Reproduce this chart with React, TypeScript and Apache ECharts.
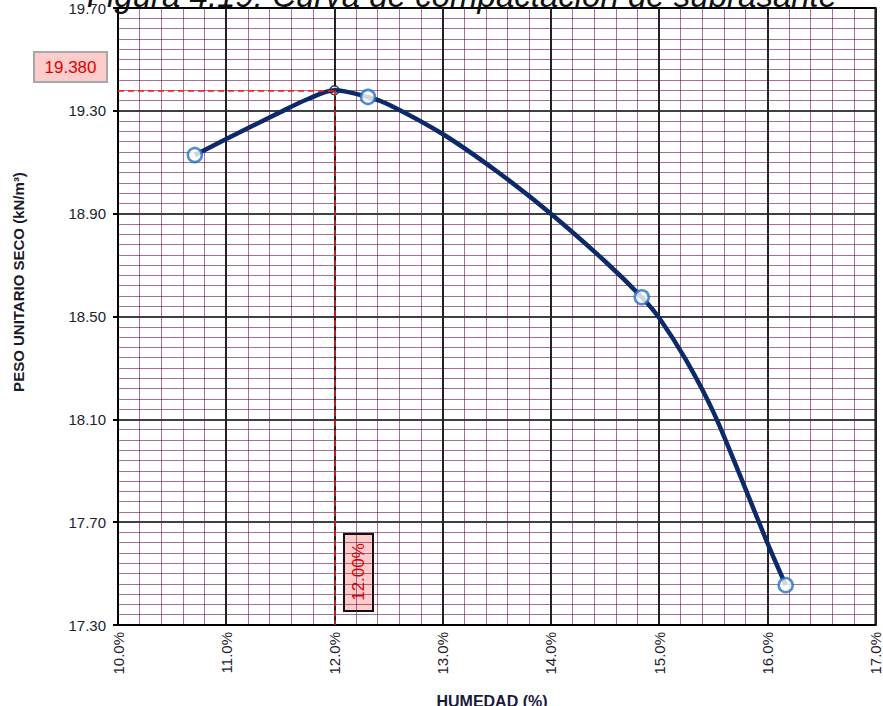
import React, { useEffect, useRef } from "react";
import * as echarts from "echarts";

// Ensayo Proctor: puntos medidos (humedad %, peso unitario seco kN/m3)
const pointHumidity = [10.71, 12.31, 14.84, 16.17];
const pointDensity = [19.128, 19.354, 18.575, 17.455];

// Curva de compactación
const curveHumidity = [10.71, 11.0, 11.5, 11.75, 12.0, 12.31, 12.5, 13.0, 13.5, 14.0, 14.5, 14.84, 15.0, 15.25, 15.5, 15.75, 16.0, 16.17];
const curveDensity = [19.128, 19.19, 19.295, 19.345, 19.38, 19.354, 19.325, 19.21, 19.065, 18.9, 18.715, 18.575, 18.495, 18.33, 18.13, 17.88, 17.62, 17.455];

// Óptimo
const optimumHumidity = 12.0;
const maxDensity = 19.38;

const xTicks = { min: 10, max: 17, interval: 1 };
const yTicks = { min: 17.3, max: 19.7, interval: 0.4 };

const titleText = "Figura 4.19: Curva de compactación de subrasante";
const xName = "HUMEDAD (%)";
const yName = "PESO UNITARIO SECO (kN/m³)";

export default function App() {
  const ref = useRef<HTMLDivElement>(null);
  useEffect(() => {
    if (!ref.current) return;
    const chart = echarts.init(ref.current, undefined, { renderer: "svg" });
    const minor = "rgba(105,20,75,0.6)";
    chart.setOption({
      animation: false,
      backgroundColor: "#ffffff",
      grid: {
        left: 118,
        right: 6,
        top: 8,
        bottom: 81,
        show: true,
        borderColor: "#000",
        borderWidth: 2,
      },
      xAxis: {
        type: "value",
        min: xTicks.min,
        max: xTicks.max,
        interval: xTicks.interval,
        axisLine: { show: true, lineStyle: { color: "#000", width: 2 } },
        axisTick: { show: false },
        axisLabel: {
          rotate: 90,
          margin: 7,
          fontFamily: "Arial, 'Liberation Sans', sans-serif",
          fontSize: 15,
          color: "#22222c",
          formatter: (v: number) => v.toFixed(1) + "%",
        },
        splitLine: { show: true, lineStyle: { color: "#222", width: 2 } },
        minorTick: { show: false, splitNumber: 5 },
        minorSplitLine: { show: true, lineStyle: { color: minor, width: 1 } },
      },
      yAxis: {
        type: "value",
        min: yTicks.min,
        max: yTicks.max,
        interval: yTicks.interval,
        axisLine: { show: true, lineStyle: { color: "#000", width: 2 } },
        axisTick: { show: true, length: 5, lineStyle: { color: "#000", width: 2 } },
        axisLabel: {
          margin: 12,
          fontFamily: "Arial, 'Liberation Sans', sans-serif",
          fontSize: 15,
          color: "#22222c",
          formatter: (v: number) => v.toFixed(2),
        },
        splitLine: { show: true, lineStyle: { color: "#000", width: 1.5 } },
        minorTick: { show: false, splitNumber: 10 },
        minorSplitLine: { show: true, lineStyle: { color: minor, width: 1 } },
      },
      series: [
        {
          type: "scatter",
          data: [[optimumHumidity, maxDensity]],
          symbol: "circle",
          symbolSize: 9,
          itemStyle: { color: "#fff", borderColor: "#111", borderWidth: 1.5 },
          z: 3,
          markLine: {
            silent: true,
            symbol: "none",
            label: { show: false },
            lineStyle: { color: "#ff1a1a", type: [6, 4], width: 1.5 },
            data: [
              [
                { coord: [xTicks.min, maxDensity] },
                { coord: [optimumHumidity, maxDensity] },
              ],
              [
                { coord: [optimumHumidity, maxDensity] },
                { coord: [optimumHumidity, yTicks.min] },
              ],
            ],
          },
        },
        {
          type: "line",
          data: curveHumidity.map((x, i) => [x, curveDensity[i]]),
          smooth: 0.3,
          showSymbol: false,
          lineStyle: { color: "#0c2a6a", width: 4.5 },
          z: 4,
        },
        {
          type: "scatter",
          data: pointHumidity.map((x, i) => [x, pointDensity[i]]),
          symbol: "circle",
          symbolSize: 14,
          itemStyle: { color: "#fff", borderColor: "#1f6fc4", borderWidth: 2.5 },
          z: 5,
        },
      ],
      graphic: [
        {
          type: "text",
          x: 462,
          y: 12,
          style: {
            text: titleText,
            font: "italic 33px Arial, 'Liberation Sans', sans-serif",
            fill: "#111",
            align: "center",
            verticalAlign: "bottom",
          },
          z: 10,
        },
        {
          type: "text",
          x: 18,
          y: 282,
          rotation: Math.PI / 2,
          style: {
            text: yName,
            font: "bold 15px Arial, 'Liberation Sans', sans-serif",
            fill: "#1a1a2a",
            align: "center",
            verticalAlign: "middle",
          },
        },
        {
          type: "text",
          x: 492,
          y: 693,
          style: {
            text: xName,
            font: "bold 16px Arial, 'Liberation Sans', sans-serif",
            fill: "#1a1a3a",
            align: "center",
            verticalAlign: "top",
          },
        },
        {
          type: "group",
          children: [
            {
              type: "rect",
              shape: { x: 34, y: 52, width: 73, height: 30 },
              style: { fill: "#ffcccc", stroke: "#a8a8a8", lineWidth: 2 },
            },
            {
              type: "text",
              x: 70.5,
              y: 67,
              style: {
                text: maxDensity.toFixed(3),
                font: "17px Arial, 'Liberation Sans', sans-serif",
                fill: "#e00000",
                align: "center",
                verticalAlign: "middle",
              },
            },
          ],
        },
        {
          type: "group",
          z: 20,
          children: [
            {
              type: "rect",
              shape: { x: 344, y: 534, width: 29, height: 77 },
              style: { fill: "#ffcccc", stroke: "#111", lineWidth: 2 },
            },
            {
              type: "text",
              x: 358.5,
              y: 572,
              rotation: Math.PI / 2,
              style: {
                text: optimumHumidity.toFixed(2) + "%",
                font: "17px Arial, 'Liberation Sans', sans-serif",
                fill: "#e00000",
                align: "center",
                verticalAlign: "middle",
              },
            },
          ],
        },
      ],
    });
    return () => chart.dispose();
  }, []);
  return (
    <div
      ref={ref}
      style={{ position: "fixed", left: 0, top: 0, width: 883, height: 706 }}
    />
  );
}
